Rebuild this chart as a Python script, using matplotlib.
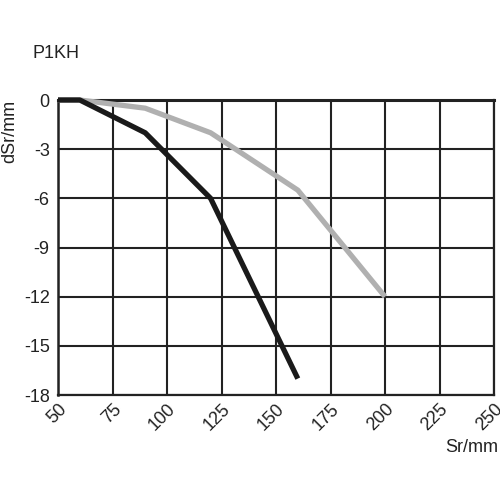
import matplotlib
matplotlib.use("Agg")
import matplotlib.pyplot as plt

plt.rcParams['font.family'] = ['Liberation Sans', 'DejaVu Sans']

black_x = [50, 60, 90, 120, 160]
black_y = [0, 0, -2, -6, -17]
gray_x = [50, 60, 90, 120, 160, 200]
gray_y = [0, 0, -0.5, -2, -5.5, -12]
x_ticks = [50, 75, 100, 125, 150, 175, 200, 225, 250]
y_ticks = [0, -3, -6, -9, -12, -15, -18]

fig = plt.figure(figsize=(5, 5), dpi=100)
ax = fig.add_axes([0.116, 0.21, 0.872, 0.59])
ax.set_xlim(50, 250)
ax.set_ylim(-18, 0)
ax.set_xticks(x_ticks)
ax.set_yticks(y_ticks)
ax.set_xticklabels([str(v) for v in x_ticks], rotation=45, ha='right', va='top',
                   rotation_mode='anchor', fontsize=13)
ax.set_yticklabels([str(v) for v in y_ticks], fontsize=13)
ax.tick_params(axis='y', length=0, pad=6, colors='#222222')
ax.tick_params(axis='x', length=0, pad=4, colors='#222222')
ax.grid(True, color='#222222', linewidth=1.5)
ax.set_axisbelow(True)
for s in ax.spines.values():
    s.set_color('#222222')
    s.set_linewidth(1.6)
ax.spines['top'].set_linewidth(2.2)
ax.spines['left'].set_linewidth(1.8)

ax.plot(gray_x, gray_y, color='#b0b0b0', linewidth=3.8, solid_capstyle='butt', clip_on=False, zorder=3)
ax.plot(black_x, black_y, color='#1a1a1a', linewidth=3.8, solid_capstyle='butt', clip_on=False, zorder=4)

fig.text(0.064, 0.894, 'P1KH', fontsize=13, color='#222222', ha='left', va='center')
fig.text(0.019, 0.80, 'dSr/mm', fontsize=13, color='#222222', rotation=90, ha='center', va='top')
fig.text(0.996, 0.104, 'Sr/mm', fontsize=13, color='#222222', ha='right', va='center')

fig.savefig('out.png', dpi=100, facecolor='white')
